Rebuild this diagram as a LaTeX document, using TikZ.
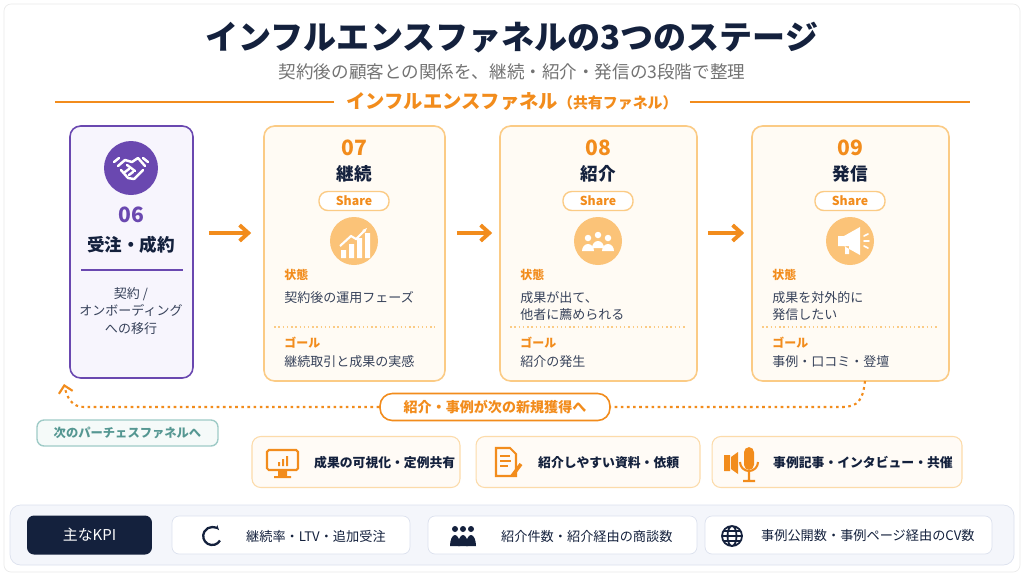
\documentclass[tikz,border=0pt]{standalone}
\usepackage{fontspec}
\setmainfont{Noto Sans CJK JP}
\usetikzlibrary{positioning,arrows.meta}
\definecolor{navy}{HTML}{14213D}
\definecolor{orng}{HTML}{F28C1C}
\definecolor{orngl}{HTML}{FBCB85}
\definecolor{cream}{HTML}{FFFBF4}
\definecolor{purp}{HTML}{6A48B0}
\definecolor{lav}{HTML}{F7F5FD}
\definecolor{teal}{HTML}{5FA8A2}
\definecolor{kpibg}{HTML}{F4F6FB}
\definecolor{kpiln}{HTML}{DCE1EE}

\begin{document}
\begin{tikzpicture}[x=0.02cm,y=-0.02cm,
  card/.style={draw=orngl,fill=cream,rounded corners=6pt,line width=0.9pt},
  tool/.style={draw=orngl!70,fill=cream!60!orange!8,rounded corners=5pt,line width=0.6pt,minimum height=1.02cm},
  kbox/.style={draw=kpiln,fill=white,rounded corners=4pt,minimum height=0.76cm},
  pill/.style={draw=orngl,fill=white,rounded corners=5pt,line width=0.8pt,minimum width=1.4cm,minimum height=0.38cm,inner sep=0pt,text=orng,font=\fontsize{7}{8}\selectfont\bfseries},
  num/.style={font=\fontsize{12}{13}\selectfont\bfseries,text=orng},
  ttl/.style={font=\fontsize{10}{12}\selectfont\bfseries,text=navy},
  lbl/.style={font=\fontsize{6.8}{8}\selectfont\bfseries,text=orng,anchor=west},
  txt/.style={font=\fontsize{7.4}{9.8}\selectfont,text=navy!85,anchor=west,align=left},
  arr/.style={-{Straight Barb[length=5pt,width=9pt]},line width=2.2pt,orng},
  fb/.style={-{Straight Barb[length=4pt,width=8pt]},orng,line width=1.2pt,dash pattern=on 1.5pt off 2pt},
  ico/.style={circle,minimum size=0.96cm,inner sep=0pt}]
\useasboundingbox (0,0) rectangle (1024,576);
\fill[white] (0,0) rectangle (1024,576);
\draw[black!8,rounded corners=4pt] (4,4) rectangle (1020,572);
%================================================================
%	Title
\node[font=\fontsize{18.8}{22}\selectfont\bfseries,text=navy] (title) at (512,38) {インフルエンスファネルの3つのステージ};
\node[font=\fontsize{10}{12}\selectfont,text=black!55] (sub) at (512,72) {契約後の顧客との関係を、継続・紹介・発信の3段階で整理};
\node[font=\fontsize{11}{13}\selectfont\bfseries,text=orng] (band) at (512,102) {インフルエンスファネル{\fontsize{8.5}{10}\selectfont（共有ファネル）}};
\draw[orng,line width=0.9pt] (band.west) ++(-6,0) -- (55,102);
\draw[orng,line width=0.9pt] (band.east) ++(6,0) -- (970,102);

%================================================================
%	Card 06
\node[draw=purp,fill=lav,rounded corners=6pt,line width=0.9pt,minimum width=2.46cm,minimum height=5.04cm] (c06) at (131.5,252) {};
\node[ico,fill=purp,minimum size=1.08cm] (i06) at (131,168) {};
\begin{scope}[white,line width=1.4pt,line cap=round,line join=round]
\draw (114,162) -- (119,158) (148,162) -- (143,158);
\draw (118,166) -- (125,160) -- (132,162) -- (138,158) -- (145,166);
\draw (121,170) -- (128,178) -- (134,179) -- (143,170);
\draw (127,165) -- (135,171) (125,172) -- (129,169) (129,175) -- (133,172);
\end{scope}
\node[num,text=purp] (n06) at (131,215) {06};
\node[ttl] (t06) at (131,245) {受注・成約};
\draw[purp,line width=0.7pt] (81,270) -- (183,270);
\node[font=\fontsize{7.4}{10}\selectfont,text=navy!85,align=center] (d06) at (131,311) {契約 /\\オンボーディング\\への移行};

%================================================================
%	Cards 07--09
\node[card,minimum width=3.62cm,minimum height=5.1cm] (c07) at (354.5,253.5) {};
\node[card,minimum width=3.94cm,minimum height=5.1cm] (c08) at (598.5,253.5) {};
\node[card,minimum width=3.94cm,minimum height=5.1cm] (c09) at (850.5,253.5) {};
%----------------------------------------------------------------
\foreach \c/\x/\n/\t/\sa/\go in {07/354/07/継続/契約後の運用フェーズ/継続取引と成果の実感,
                              08/598/08/紹介/{成果が出て、\\他者に薦められる}/紹介の発生,
                              09/850/09/発信/{成果を対外的に\\発信したい}/事例・口コミ・登壇}{
  \node[num] (n\c) at (\x,148) {\n};
  \node[ttl] (t\c) at (\x,174) {\t};
  \node[pill] (s\c) at (\x,201) {Share};
  \node[ico,fill=orngl!90!orange] (i\c) at (\x,241) {};
  \node[lbl] (a\c) at ([xshift=0.3cm]c\c.west |- 0,275) {状態};
  \node[txt,anchor=north west] (b\c) at ([yshift=1pt]a\c.south west) {\sa};
  \draw[orngl,line width=0.9pt,dash pattern=on 0.8pt off 1.6pt] ([xshift=0.22cm]c\c.west |- 0,327) -- ([xshift=-0.22cm]c\c.east |- 0,327);
  \node[lbl] (g\c) at ([xshift=0.3cm]c\c.west |- 0,343) {ゴール};
  \node[txt] (h\c) at ([xshift=0.3cm]c\c.west |- 0,362) {\go};
}
%----------------------------------------------------------------
%	icons
\begin{scope}[white]
\fill (341,250) rectangle (346,258) (349,244) rectangle (354,258) (357,238) rectangle (362,258) (365,233) rectangle (370,258);
\draw[line width=1.2pt,-{Stealth[length=3pt]}] (340,246) -- (351,236) -- (356,239) -- (367,228);
\foreach \dx/\dy in {-10/-3,0/-6,10/-3}{
  \fill (598+\dx,241+\dy) circle (0.065cm);
  \fill (598+\dx-6,241+\dy+13) arc (180:0:0.12cm and 0.14cm) -- cycle;}
\fill (838,236) rectangle (844,246) (844,236) -- (860,227) -- (860,255) -- (844,246) -- cycle (845,246) rectangle (849,254);
\draw[line width=1pt,line cap=round] (864,236) -- (868,234) (864,241) -- (869,241) (864,246) -- (868,248);
\end{scope}

%================================================================
%	Arrows
\draw[arr,shorten <=0.3cm,shorten >=0.24cm] (c06.east |- 0,233) -- (c07.west |- 0,233);
\draw[arr,shorten <=0.22cm,shorten >=0.14cm] (c07.east |- 0,233) -- (c08.west |- 0,233);
\draw[arr,shorten <=0.2cm,shorten >=0.14cm] (c08.east |- 0,233) -- (c09.west |- 0,233);
%----------------------------------------------------------------
\node[draw=orng,fill=white,rounded corners=7pt,line width=0.9pt,minimum width=4.6cm,minimum height=0.54cm,font=\fontsize{8}{9}\selectfont\bfseries,text=orng] (loop) at (495,407) {紹介・事例が次の新規獲得へ};
\coordinate (fs) at (865,381);
\coordinate (fe) at (64,384);
\draw[fb,-] (fs) .. controls (863,400) and (858,407) .. (842,407) -- (loop.east);
\draw[fb] (loop.west) -- (84,407) .. controls (72,407) and (67,398) .. (fe);
\node[draw=teal!60,fill=teal!6,rounded corners=4pt,line width=0.8pt,minimum width=3.62cm,minimum height=0.52cm,font=\fontsize{7}{8}\selectfont\bfseries,text=teal!90!black] (next) at (127.5,433) {次のパーチェスファネルへ};

%================================================================
%	Tools
\node[tool,minimum width=4.16cm] (u1) at (356,462) {};
\node[tool,minimum width=4.48cm] (u2) at (588,462) {};
\node[tool,minimum width=5cm] (u3) at (837,462) {};
\node[font=\fontsize{7.3}{9}\selectfont\bfseries,text=navy,anchor=west] (v1) at (308,463) {成果の可視化・定例共有};
\node[font=\fontsize{7.3}{9}\selectfont\bfseries,text=navy,anchor=west] (v2) at (532,463) {紹介しやすい資料・依頼};
\node[font=\fontsize{7.3}{9}\selectfont\bfseries,text=navy,anchor=west] (v3) at (767,463) {事例記事・インタビュー・共催};
%	tool icons
\draw[orng,line width=1.2pt,rounded corners=1pt] (267,450) rectangle (298,470);
\fill[orng] (278,470) rectangle (287,476) (274,476) rectangle (291,478);
\fill[orng] (278,462) rectangle (280,466) (282,459) rectangle (284,466) (286,456) rectangle (288,466);
\draw[orng,line width=1.2pt] (496,448) -- (510,448) -- (516,454) -- (516,476) -- (496,476) -- cycle;
\draw[orng,line width=1pt] (500,456) -- (510,456) (500,461) -- (511,461) (500,466) -- (508,466);
\draw[orng,line width=2pt] (512,476) -- (521,464);
\fill[orng,rounded corners=3pt] (744,447) rectangle (754,470);
\draw[orng,line width=1.2pt] (740,462) arc (180:360:0.18cm) (749,471) -- (749,480) (743,481) -- (755,481);
\fill[orng] (724,455) rectangle (730,471) (731,457) -- (738,452) -- (738,474) -- (731,469) -- cycle;

%================================================================
%	KPI
\draw[kpiln,fill=kpibg,rounded corners=6pt] (10,505) rectangle (1014,565);
\node[fill=navy,rounded corners=4pt,minimum width=2.5cm,minimum height=0.78cm,text=white,font=\fontsize{8.5}{10}\selectfont] (kpi) at (89.5,535) {主なKPI};
\node[kbox,minimum width=4.76cm] (k1) at (291,535) {};
\node[kbox,minimum width=5.38cm] (k2) at (562.5,535) {};
\node[kbox,minimum width=5.74cm] (k3) at (848.5,535) {};
\node[font=\fontsize{7.5}{9}\selectfont,text=navy,anchor=west] (m1) at (240,536) {継続率・LTV・追加受注};
\node[font=\fontsize{7.5}{9}\selectfont,text=navy,anchor=west] (m2) at (495,536) {紹介件数・紹介経由の商談数};
\node[font=\fontsize{7.5}{9}\selectfont,text=navy,anchor=west] (m3) at (755,536) {事例公開数・事例ページ経由のCV数};
\draw[navy,line width=1.3pt,-{Stealth[length=3pt]}] (220,540.5) arc (-30:-320:0.18cm);
\foreach \dx in {-8,0,8}{\fill[navy] (463+\dx,529) circle (0.06cm); \fill[navy] (463+\dx-5,546) arc (180:0:0.1cm and 0.22cm) -- cycle;}
\draw[navy,line width=1pt] (732,536) circle (0.2cm) (732,536) ellipse (0.09cm and 0.2cm) (722,536) -- (742,536) (724,531) -- (740,531) (724,541) -- (740,541);
\end{tikzpicture}
\end{document}
